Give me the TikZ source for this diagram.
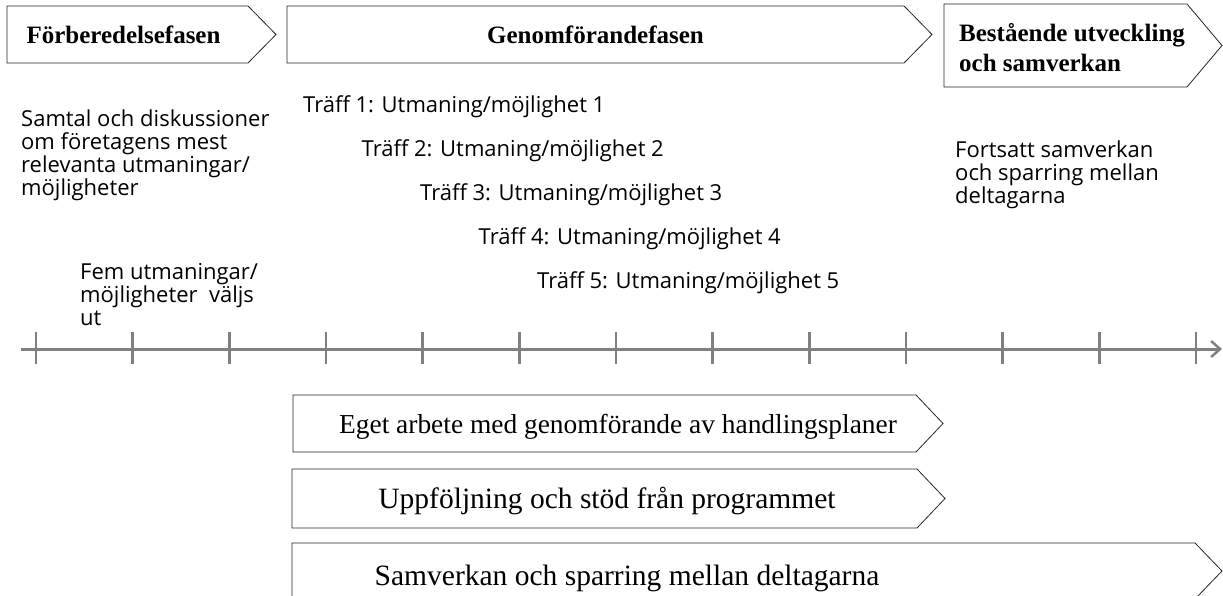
\documentclass[tikz,border=0pt]{standalone}
\usepackage{fontspec}
\setmainfont{Liberation Serif}
\newfontfamily\sansf{Open Sans}
\usetikzlibrary{arrows.meta}
\tikzset{
  phase/.style={draw=black!85, line width=0.8pt, fill=white, line join=miter},
  head/.style={font=\fontsize{25}{30}\selectfont\bfseries, inner sep=0pt},
  bar/.style={inner sep=0pt},
  note/.style={font=\sansf\fontsize{22}{23}\selectfont, inner sep=0pt, align=left},
  axis/.style={draw=black!50, line width=3pt},
  tick/.style={draw=black!50, line width=2.5pt},
}
\newcommand\chevshape[6]{% x1,y1,xb,xt,y2,name
  \draw[phase] (#1,#2) -- (#3,#2) -- (#4,{(#2+#5)/2}) -- (#3,#5) -- (#1,#5) -- cycle;
  \coordinate (#6) at ({(#1+#3)/2},{(#2+#5)/2});
}
\begin{document}
\begin{tikzpicture}[x=1pt,y=-1pt]
\useasboundingbox (0,0) rectangle (1223,595);
% phase arrows
\chevshape{7}{6}{248}{276}{63}{p1}
\chevshape{287}{6}{904}{932}{63}{p2}
\chevshape{944}{4}{1187}{1222}{87}{p3}
\node[head] (t1) at (123.5,35) {Förberedelsefasen};
\node[head] (t2) at (595.5,35) {Genomförandefasen};
\node[head, anchor=west, align=left] (t3) at (959,48) {Bestående utveckling\\och samverkan};
% notes
\node[note, anchor=north west] (n1) at (21,110) {Samtal och diskussioner\\om företagens mest\\relevanta utmaningar/\\möjligheter};
\node[note, anchor=north west] (n2) at (80,263) {Fem utmaningar/\\möjligheter\ \ väljs\\ut};
\foreach \i in {1,...,5}{
  \node[note, anchor=west] (tr\i) at ({303+58.5*(\i-1)},{107+44*(\i-1)}) {Träff \i: Utmaning/möjlighet \i};
}
\node[note, anchor=north west] (n3) at (955,141) {Fortsatt samverkan\\och sparring mellan\\deltagarna};
% timeline
\coordinate (ax0) at (21,349);
\coordinate (ax1) at (1222,349);
\draw[axis, -{Straight Barb[length=9pt,width=16pt,line width=2.5pt]}] (ax0) -- (ax1);
\foreach \k in {0,...,12}{
  \draw[tick] ({36+96.667*\k},332) -- ({36+96.667*\k},364);
}
% bottom bars
\chevshape{293}{395}{916}{943}{452}{b1}
\chevshape{292}{469}{917}{945}{528}{b2}
\chevshape{292}{543}{1195}{1222}{599}{b3}
\node[bar, font=\fontsize{27.4}{30}\selectfont] (u1) at (618,427) {Eget arbete med genomförande av handlingsplaner};
\node[bar, font=\fontsize{29.5}{32}\selectfont] (u2) at (607,501) {Uppföljning och stöd från programmet};
\node[bar, font=\fontsize{29.5}{32}\selectfont] (u3) at (627,578) {Samverkan och sparring mellan deltagarna};
\end{tikzpicture}
\end{document}
